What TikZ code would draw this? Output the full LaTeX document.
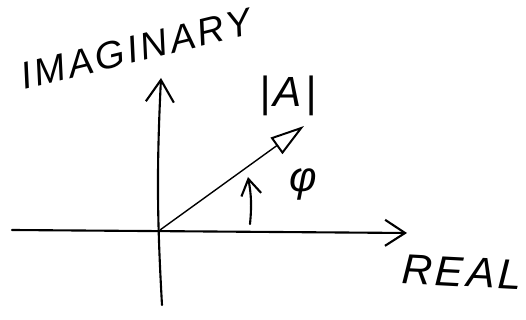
\documentclass[tikz,border=0pt]{standalone}
\usepackage{fontspec}
\newfontfamily\handfont[LetterSpace=8]{Liberation Sans}
\usetikzlibrary{arrows.meta}

\begin{document}
\begin{tikzpicture}[
  axis/.style={line width=1.5pt, line cap=round},
  lbl/.style={font=\handfont\itshape\fontsize{30}{30}\selectfont, inner sep=0pt}
]
\useasboundingbox (0,0) rectangle (13.15,8);

% Points
\coordinate (O) at (4.0,2.25);
\coordinate (reL) at (0.3,2.25);
\coordinate (reR) at (10.175,2.175);
\coordinate (imB) at (4.05,0.375);
\coordinate (imT) at (4.025,6.05);
\coordinate (A) at (7.6,4.85);
\coordinate (phiS) at (6.25,2.4);
\coordinate (phiE) at (6.2,3.575);

% Axes
\draw[axis, -{Straight Barb[length=0.5cm, width=0.65cm, line width=1.5pt]}] (reL) -- (reR);
\draw[axis, -{Straight Barb[length=0.55cm, width=0.7cm, line width=1.5pt]}] (imB) to[bend left=3] (imT);

% Phasor
\draw[line width=1pt, -{Triangle[open, length=0.85cm, width=0.5cm, line width=1.4pt]}] (O) -- (A);

% Angle
\draw[axis, -{Straight Barb[length=0.4cm, width=0.5cm, line width=1.5pt]}] (phiS) to[bend right=8] (phiE);

% Labels
\node[lbl, font=\handfont\itshape\fontsize{27}{27}\selectfont, rotate=13.7] (im) at (3.4,6.78) {IMAGINARY};
\node[lbl] (abs) at (7.2,5.6) {|A|};
\node[lbl] (phi) at (7.575,3.4) {φ};
\node[lbl, rotate=-3] (re) at (11.55,1.2) {REAL};

\end{tikzpicture}
\end{document}
